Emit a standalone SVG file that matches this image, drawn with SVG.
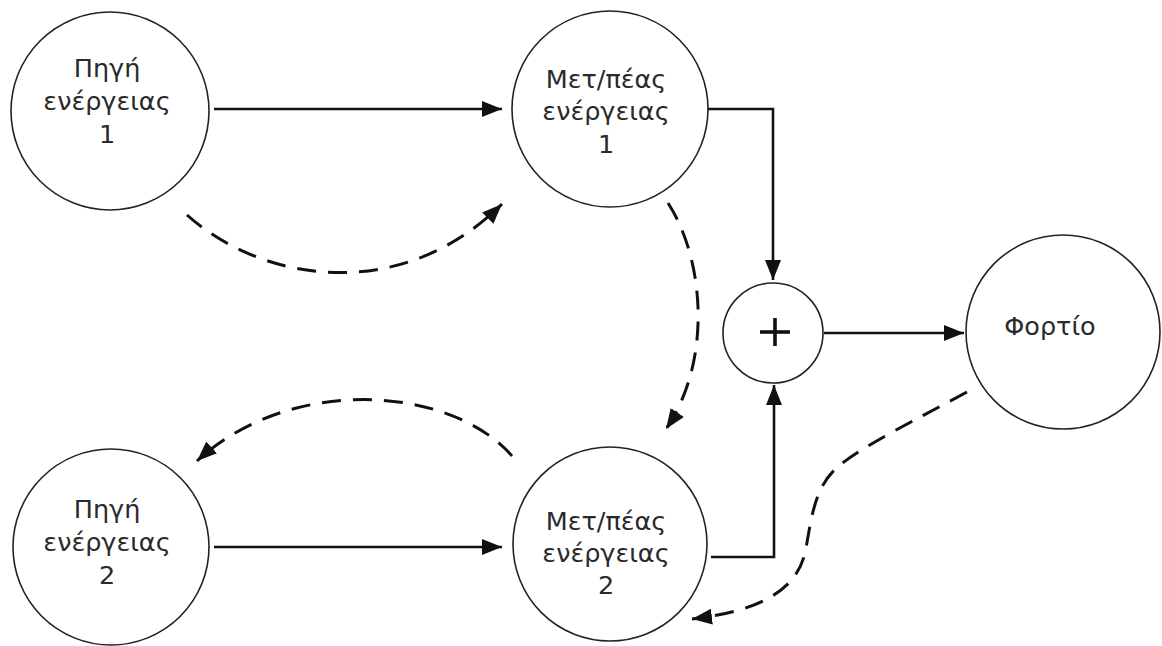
<svg xmlns="http://www.w3.org/2000/svg" width="1162" height="646" viewBox="0 0 1162 646">
  <defs>
    <marker id="arrow" viewBox="0 0 20 16" markerUnits="userSpaceOnUse" markerWidth="20" markerHeight="16" refX="20" refY="8" orient="auto">
      <path d="M0,0 L20,8 L0,16 z" fill="#111"/>
    </marker>
    <marker id="arrowDash" viewBox="0 0 20 16" markerUnits="userSpaceOnUse" markerWidth="20" markerHeight="16" refX="20" refY="8" orient="auto">
      <path d="M0,0 L20,8 L0,16 z" fill="#111"/>
    </marker>
  </defs>
  <style>
    .node { fill: #fff; stroke: #222; stroke-width: 1.6; }
    .label { font-family: "DejaVu Sans", Verdana, sans-serif; font-size: 25.5px; fill: #2a2a2a; text-anchor: middle; }
    .plus { stroke: #111; stroke-width: 3.6; }
    .flow { fill: none; stroke: #111; stroke-width: 2.6; marker-end: url(#arrow); }
    .info { fill: none; stroke: #111; stroke-width: 3; stroke-dasharray: 19 12; marker-end: url(#arrowDash); }
  </style>
  <rect width="1162" height="646" fill="#fff"/>

  <!-- energy source 1 -->
  <g id="source1">
    <circle class="node" cx="110" cy="111" r="99"/>
    <text class="label" x="107" y="77">Πηγή</text>
    <text class="label" x="107" y="110">ενέργειας</text>
    <text class="label" x="107" y="143">1</text>
  </g>

  <!-- energy converter 1 -->
  <g id="converter1">
    <circle class="node" cx="610" cy="109" r="98"/>
    <text class="label" x="606" y="88">Μετ/πέας</text>
    <text class="label" x="606" y="120">ενέργειας</text>
    <text class="label" x="606" y="153">1</text>
  </g>

  <!-- energy source 2 -->
  <g id="source2">
    <circle class="node" cx="111" cy="547" r="98"/>
    <text class="label" x="107" y="518">Πηγή</text>
    <text class="label" x="107" y="551">ενέργειας</text>
    <text class="label" x="107" y="584">2</text>
  </g>

  <!-- energy converter 2 -->
  <g id="converter2">
    <circle class="node" cx="610" cy="544" r="97"/>
    <text class="label" x="606" y="530">Μετ/πέας</text>
    <text class="label" x="606" y="562">ενέργειας</text>
    <text class="label" x="606" y="594">2</text>
  </g>

  <!-- summing junction -->
  <g id="sum">
    <circle class="node" cx="773" cy="333" r="50"/>
    <line class="plus" x1="760" y1="332" x2="790" y2="332"/>
    <line class="plus" x1="775" y1="318" x2="775" y2="346"/>
  </g>

  <!-- load -->
  <g id="load">
    <circle class="node" cx="1063" cy="332" r="97"/>
    <text class="label" x="1050" y="335">Φορτίο</text>
  </g>

  <g id="connectors">
    <!-- power flow -->
    <path class="flow" d="M214,109 L502,109"/>
    <path class="flow" d="M214,547 L502,547"/>
    <path class="flow" d="M708,109 L773,109 L773,280"/>
    <path class="flow" d="M711,557 L774,557 L774,385"/>
    <path class="flow" d="M824,333 L964,333"/>
    <!-- information flow -->
    <path class="info" d="M187,215 C262,282 400,305 502,204"/>
    <path class="info" d="M668,203 C705,260 712,362 666,429"/>
    <path class="info" d="M512,456 C450,385 290,375 197,461"/>
    <path class="info" d="M967,392 C915,420 865,445 840,465 C815,485 812,515 806,548 C799,590 760,611 692,619"/>
  </g>
</svg>
